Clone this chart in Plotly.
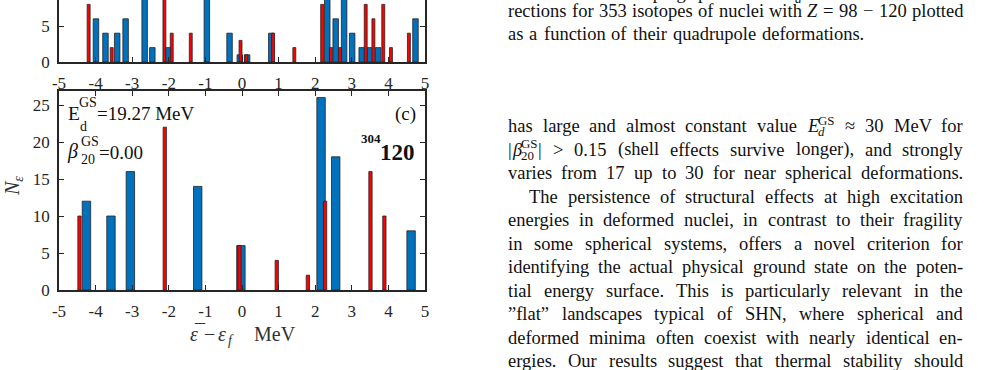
import glob, os, re, struct
import plotly.graph_objects as go

W, H = 1007, 370

# ---------------- data ----------------
tick_vals_x = [-5, -4, -3, -2, -1, 0, 1, 2, 3, 4, 5]
tick_text_x = ["-5", "-4", "-3", "-2", "-1", "0", "1", "2", "3", "4", "5"]

top_blue_x = [-3.99, -3.73, -3.41, -3.18, -2.66, -2.45, -2.02, -0.96, -0.34, -0.06, 0.14,
              0.80, 2.33, 2.56, 2.79, 3.01, 3.27, 3.50, 3.72, 4.74]
top_blue_y = [6, 4, 4, 6, 12, 2, 2, 12, 4, 1, 1, 4, 12, 6, 12, 4, 2, 2, 2, 6]
top_red_x = [-4.19, -3.56, -2.12, -1.92, -1.40, -0.04, 0.12, 0.85, 1.43, 2.19, 2.43, 2.68,
             3.38, 3.59, 3.86, 4.07, 4.56]
top_red_y = [8, 2, 12, 4, 4, 3, 1, 4, 2, 8, 2, 2, 8, 6, 8, 2, 4]

bot_blue_x = [-4.25, -3.58, -3.05, -1.21, -0.03, 2.16, 2.56, 4.62]
bot_blue_y = [12, 10, 16, 14, 6, 26, 18, 8]
bot_red_x = [-4.44, -2.11, -0.07, 0.95, 1.80, 2.27, 3.51, 3.89]
bot_red_y = [10, 22, 6, 4, 2, 12, 16, 10]

caption_lines = [
    "FIG. 2. The damping parameter $E$_{$d$}^{GS} of the shell cor-",
    "rections for 353 isotopes of nuclei with $Z$ = 98 − 120 plotted",
    "as a function of their quadrupole deformations.",
]
body_lines = [
    "has large and almost constant value $E$_{$d$}^{GS} ≈ 30 MeV for",
    "|$β$^{GS}_{20}| > 0.15 (shell effects survive longer), and strongly",
    "varies from 17 up to 30 for near spherical deformations.",
    "The persistence of structural effects at high excitation",
    "energies in deformed nuclei, in contrast to their fragility",
    "in some spherical systems, offers a novel criterion for",
    "identifying the actual physical ground state on the poten-",
    "tial energy surface. This is particularly relevant in the",
    "”flat” landscapes typical of SHN, where spherical and",
    "deformed minima often coexist with nearly identical en-",
    "ergies. Our results suggest that thermal stability should",
]

# ---------------- styles ----------------
SERIF = "Liberation Serif"
BLUE = "#0072BD"
RED = "#FF0000"
EDGE = "#222222"
AX = "#262626"
TXT = "#111111"


# ---------------- font metrics (for justified text) ----------------
def find_font(name):
    for base in ["/usr/share/fonts", "/usr/local/share/fonts", os.path.expanduser("~/.fonts")]:
        r = glob.glob(os.path.join(base, "**", name), recursive=True)
        if r:
            return r[0]
    return None


class Metrics:
    def __init__(self, path):
        self.ok = False
        if not path:
            return
        try:
            d = open(path, "rb").read()
            self.d = d
            num = struct.unpack(">H", d[4:6])[0]
            tabs = {}
            for i in range(num):
                tag, cs, off, ln = struct.unpack(">4sIII", d[12 + 16 * i:28 + 16 * i])
                tabs[tag.decode("latin-1")] = off
            self.upem = struct.unpack(">H", d[tabs["head"] + 18:tabs["head"] + 20])[0]
            nh = struct.unpack(">H", d[tabs["hhea"] + 34:tabs["hhea"] + 36])[0]
            ho = tabs["hmtx"]
            self.adv = [struct.unpack(">H", d[ho + 4 * i:ho + 4 * i + 2])[0] for i in range(nh)]
            co = tabs["cmap"]
            n = struct.unpack(">H", d[co + 2:co + 4])[0]
            sub = None
            for i in range(n):
                pid, eid, so = struct.unpack(">HHI", d[co + 4 + 8 * i:co + 12 + 8 * i])
                fmt = struct.unpack(">H", d[co + so:co + so + 2])[0]
                if pid == 3 and eid == 1 and fmt == 4:
                    sub = co + so
            if sub is None:
                return
            segx2 = struct.unpack(">H", d[sub + 6:sub + 8])[0]
            seg = segx2 // 2
            self.seg = seg
            self.ends = struct.unpack(">%dH" % seg, d[sub + 14:sub + 14 + segx2])
            so = sub + 14 + segx2 + 2
            self.starts = struct.unpack(">%dH" % seg, d[so:so + segx2])
            do = so + segx2
            self.deltas = struct.unpack(">%dh" % seg, d[do:do + segx2])
            self.ro_off = do + segx2
            self.ros = struct.unpack(">%dH" % seg, d[self.ro_off:self.ro_off + segx2])
            self.ok = True
        except Exception:
            self.ok = False

    def gid(self, c):
        for i in range(self.seg):
            if self.ends[i] >= c:
                if self.starts[i] > c:
                    return 0
                if self.ros[i] == 0:
                    return (c + self.deltas[i]) & 0xFFFF
                addr = self.ro_off + 2 * i + self.ros[i] + 2 * (c - self.starts[i])
                g = struct.unpack(">H", self.d[addr:addr + 2])[0]
                return (g + self.deltas[i]) & 0xFFFF if g else 0
        return 0

    def width(self, s, size):
        tot = 0
        for ch in s:
            g = self.gid(ord(ch))
            g = min(g, len(self.adv) - 1)
            tot += self.adv[g]
        return tot * size / self.upem


M_REG = Metrics(find_font("LiberationSerif-Regular.ttf"))
M_ITA = Metrics(find_font("LiberationSerif-Italic.ttf"))


def text_w(s, italic, size):
    m = M_ITA if italic else M_REG
    if m.ok:
        return m.width(s, size)
    return 0.45 * size * len(s)


TOK = re.compile(r"\^\{[^}]*\}|_\{[^}]*\}|\$[^$]*\$|[^$^_]+")


def parse_word(word):
    out = []
    for t in TOK.findall(word):
        if t.startswith("^{"):
            kind, body = "sup", t[2:-1]
        elif t.startswith("_{"):
            kind, body = "sub", t[2:-1]
        else:
            kind, body = "base", t
        it = len(body) >= 2 and body.startswith("$") and body.endswith("$")
        if it:
            body = body[1:-1]
        out.append((kind, body, it))
    return out


def layout_word(word, S):
    items, x = [], 0.0
    ps = parse_word(word)
    i = 0
    while i < len(ps):
        kind, body, it = ps[i]
        if kind == "base":
            items.append((x, kind, body, it, S))
            x += text_w(body, it, S)
            i += 1
        else:
            s2 = S * 0.7
            group = [ps[i]]
            if i + 1 < len(ps) and ps[i + 1][0] in ("sup", "sub") and ps[i + 1][0] != kind:
                group.append(ps[i + 1])
            wm = 0
            for k, b, it2 in group:
                items.append((x + 0.03 * S, k, b, it2, s2))
                wm = max(wm, text_w(b, it2, s2))
            x += wm + 0.05 * S
            i += len(group)
    return items, x


anns = []


def esc(s):
    return s.replace("&", "&amp;").replace("<", "&lt;").replace(">", "&gt;")


def add_ann(x, cy, body, italic=False, size=18, color=TXT, bold=False, anchor="left", angle=0, raw=False):
    t = body if raw else esc(body)
    if italic:
        t = "<i>" + t + "</i>"
    if bold:
        t = "<b>" + t + "</b>"
    anns.append(dict(x=x / W, y=1 - cy / H, xref="paper", yref="paper", xanchor=anchor,
                     yanchor="middle", text=t, showarrow=False, borderpad=0, textangle=angle,
                     font=dict(family=SERIF, size=size, color=color)))


def add_line(line, y, x0, x1, S=18.5):
    words = line.split()
    lays = [layout_word(w, S) for w in words]
    total = sum(l[1] for l in lays)
    n = len(words)
    gap = (x1 - x0 - total) / (n - 1) if n > 1 else 0
    x = x0
    base = y + 0.23 * S
    for items, w in lays:
        for dx, kind, body, it, s in items:
            if kind == "sup":
                bl = base - 0.42 * S
            elif kind == "sub":
                bl = base + 0.22 * S
            else:
                bl = base
            add_ann(x + dx, bl - 0.3375 * s, body, italic=it, size=s)
        x += w + gap


# ---------------- paper text ----------------
LS = 23.5
cap_y = [-5, 13, 36]
cap_x1 = [962, 962, 863]
for ln, yy, xe in zip(caption_lines, cap_y, cap_x1):
    add_line(ln, yy, 507, xe)
for i, ln in enumerate(body_lines):
    x0 = 528 if i == 3 else 507
    add_line(ln, 128 + LS * i, x0, 962)

# ---------------- chart annotations ----------------
add_ann(67, 114, "E", size=19.5, color=TXT)
add_ann(78, 102, "GS", size=14, color=TXT)
add_ann(79, 126, "d", size=14, color=TXT)
add_ann(96, 114, "=19.27 MeV", size=19, color=TXT)
add_ann(66, 151, "β", italic=True, size=20, color=TXT)
add_ann(80, 141, "GS", size=14, color=TXT)
add_ann(80, 159, "20", size=14, color=TXT)
add_ann(98, 152, "=0.00", size=19, color=TXT)
add_ann(394, 114, "(c)", size=19, color=TXT)
add_ann(360, 139, "304", size=13, color=TXT, bold=True)
add_ann(379, 152, "120", size=23, color=TXT, bold=True)

# x-axis title  (ε̄ − ε_f  MeV)
XT = "#333333"
add_ann(189, 334, "ε", italic=True, size=20, color=XT)
add_ann(193, 332, "¯", size=20, color=XT)
add_ann(203, 334, "−", size=20, color=XT)
add_ann(217, 334, "ε", italic=True, size=20, color=XT)
add_ann(227, 340, "f", italic=True, size=14, color=XT)
add_ann(253, 334, "MeV", size=20, color=XT)
# y-axis title
add_ann(13, 186, "<i>N</i><sub><i>ε</i></sub>", size=20, color=XT,
        anchor="center", angle=-90, raw=True)

# ---------------- figure ----------------
fig = go.Figure()
bar_line = dict(color=EDGE, width=0.8)
fig.add_trace(go.Bar(x=top_blue_x, y=top_blue_y, width=0.15, xaxis="x", yaxis="y",
                     marker=dict(color=BLUE, line=bar_line)))
fig.add_trace(go.Bar(x=top_red_x, y=top_red_y, width=0.08, xaxis="x", yaxis="y",
                     marker=dict(color=RED, line=bar_line)))
fig.add_trace(go.Bar(x=bot_blue_x, y=bot_blue_y, width=0.23, xaxis="x2", yaxis="y2",
                     marker=dict(color=BLUE, line=bar_line)))
fig.add_trace(go.Bar(x=bot_red_x, y=bot_red_y, width=0.09, xaxis="x2", yaxis="y2",
                     marker=dict(color=RED, line=bar_line)))

tickfont = dict(family=SERIF, size=17, color=AX)
common = dict(showgrid=False, zeroline=False, showline=True, linecolor=AX, linewidth=1.5,
              ticks="inside", ticklen=5, tickwidth=1.2, tickcolor=AX, tickfont=tickfont)
xdom = [59 / W, 425 / W]

fig.update_layout(
    width=W, height=H, autosize=False,
    margin=dict(l=0, r=0, t=0, b=0, pad=0, autoexpand=False),
    paper_bgcolor="white", plot_bgcolor="rgba(0,0,0,0)",
    barmode="overlay", showlegend=False,
    xaxis=dict(domain=xdom, range=[-5, 5], tickvals=tick_vals_x, ticktext=tick_text_x,
               anchor="y", mirror=False, ticklabelstandoff=5, **common),
    yaxis=dict(domain=[1 - 62 / H, 1], range=[0, 62 / 7.2], tickvals=[0, 5, 10],
               anchor="x", mirror="ticks", ticklabelstandoff=4, **common),
    xaxis2=dict(domain=xdom, range=[-5, 5], tickvals=tick_vals_x, ticktext=tick_text_x,
                anchor="y2", mirror="ticks", ticklabelstandoff=5, **common),
    yaxis2=dict(domain=[1 - 290 / H, 1 - 91 / H], range=[0, 199 / 7.4],
                tickvals=[0, 5, 10, 15, 20, 25], anchor="x2", mirror="ticks",
                ticklabelstandoff=4, **common),
    annotations=anns,
)

fig.write_html("out.html")
